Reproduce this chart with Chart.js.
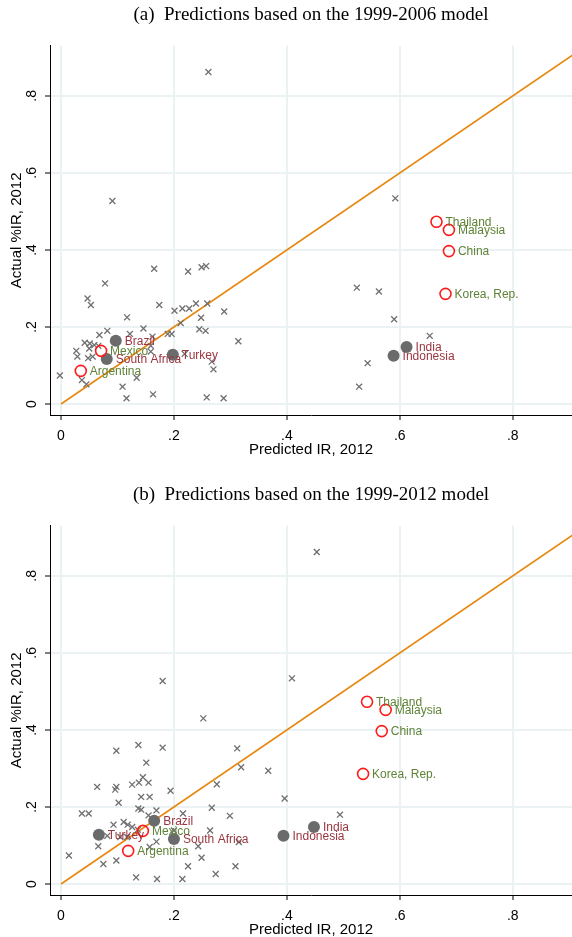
<!DOCTYPE html>
<html>
<head>
<meta charset="utf-8">
<script src="https://cdn.jsdelivr.net/npm/chart.js@4.4.1/dist/chart.umd.min.js"></script>
<style>
  html, body { margin: 0; padding: 0; background: #fff; overflow: hidden; width: 572px; height: 937px; }
  canvas { position: absolute; left: 0; }
  #panelA { top: 0; }
  #panelB { top: 480px; }
</style>
</head>
<body>
<canvas id="panelA" width="572" height="480"></canvas>
<canvas id="panelB" width="572" height="480"></canvas>
<script>
// axis ticks (Stata style labels: 0 .2 .4 ...)
const X_TICKS = [0, 0.2, 0.4, 0.6, 0.8];
const Y_TICKS = [0, 0.2, 0.4, 0.6, 0.8];

// 45-degree reference line
const DIAG_X = [0, 1];
const DIAG_Y = [0, 1];

// labelled countries: gray filled dots (dark red labels)
const FILLED_NAMES  = ['Brazil', 'South Africa', 'Turkey', 'India', 'Indonesia'];
const FILLED_ACTUAL = [0.164, 0.117, 0.128, 0.148, 0.125];
const FILLED_PRED_A = [0.097, 0.081, 0.198, 0.612, 0.589];
const FILLED_PRED_B = [0.165, 0.200, 0.067, 0.448, 0.394];

// labelled countries: red hollow circles (green labels)
const HOLLOW_NAMES  = ['Mexico', 'Argentina', 'Thailand', 'Malaysia', 'China', 'Korea, Rep.'];
const HOLLOW_ACTUAL = [0.138, 0.086, 0.473, 0.452, 0.397, 0.286];
const HOLLOW_PRED_A = [0.071, 0.035, 0.665, 0.687, 0.687, 0.681];
const HOLLOW_PRED_B = [0.145, 0.119, 0.542, 0.575, 0.568, 0.535];

// other countries, panel (a)
const OTHER_A_X = [0.261, 0.091, 0.592, -0.002, 0.165, 0.225, 0.249, 0.257, 0.078, 0.047,
  0.053, 0.174, 0.201, 0.215, 0.227, 0.239, 0.259, 0.289, 0.248, 0.245,
  0.256, 0.212, 0.189, 0.196, 0.314, 0.117, 0.146, 0.162, 0.159, 0.159,
  0.122, 0.082, 0.068, 0.042, 0.051, 0.059, 0.050, 0.066, 0.027, 0.029,
  0.048, 0.056, 0.219, 0.267, 0.270, 0.134, 0.037, 0.045, 0.109, 0.116,
  0.163, 0.258, 0.288, 0.524, 0.563, 0.590, 0.653, 0.543, 0.528];
const OTHER_A_Y = [0.862, 0.527, 0.534, 0.074, 0.351, 0.344, 0.355, 0.358, 0.313, 0.274,
  0.257, 0.257, 0.242, 0.248, 0.248, 0.261, 0.261, 0.240, 0.224, 0.194,
  0.190, 0.210, 0.182, 0.182, 0.163, 0.225, 0.196, 0.175, 0.151, 0.136,
  0.182, 0.190, 0.179, 0.159, 0.157, 0.153, 0.144, 0.151, 0.138, 0.123,
  0.119, 0.123, 0.130, 0.110, 0.090, 0.068, 0.062, 0.051, 0.045, 0.015,
  0.025, 0.017, 0.015, 0.302, 0.292, 0.220, 0.177, 0.106, 0.045];

// other countries, panel (b)
const OTHER_B_X = [0.453, 0.180, 0.409, 0.252, 0.014, 0.098, 0.137, 0.180, 0.151, 0.064,
  0.096, 0.098, 0.126, 0.138, 0.145, 0.155, 0.194, 0.142, 0.157, 0.102,
  0.037, 0.049, 0.137, 0.142, 0.155, 0.169, 0.216, 0.093, 0.111, 0.118,
  0.126, 0.136, 0.105, 0.117, 0.169, 0.157, 0.066, 0.243, 0.249, 0.225,
  0.098, 0.075, 0.133, 0.170, 0.215, 0.274, 0.309, 0.264, 0.315, 0.299,
  0.267, 0.276, 0.312, 0.319, 0.367, 0.396, 0.494, 0.082, 0.200];
const OTHER_B_Y = [0.862, 0.527, 0.534, 0.430, 0.074, 0.346, 0.361, 0.354, 0.315, 0.252,
  0.245, 0.252, 0.258, 0.263, 0.277, 0.263, 0.242, 0.226, 0.226, 0.211,
  0.183, 0.183, 0.196, 0.193, 0.178, 0.191, 0.183, 0.154, 0.161, 0.154,
  0.148, 0.141, 0.122, 0.122, 0.110, 0.096, 0.098, 0.098, 0.068, 0.046,
  0.061, 0.052, 0.017, 0.013, 0.013, 0.026, 0.046, 0.139, 0.109, 0.177,
  0.198, 0.259, 0.352, 0.303, 0.294, 0.222, 0.180, 0.125, 0.139];

const SANS = "'Liberation Sans', Arial, sans-serif";
const SERIF = "'Liberation Serif', 'Times New Roman', serif";

const pts = (xs, ys) => xs.map((x, i) => ({ x: x, y: ys[i] }));
const stataTick = v => v === 0 ? '0' : String(+v.toFixed(1)).replace(/^0\./, '.');

// writes the country names next to their markers
const pointLabels = {
  id: 'pointLabels',
  afterDatasetsDraw(chart) {
    const ctx = chart.ctx;
    ctx.save();
    ctx.font = '12px ' + SANS;
    ctx.textAlign = 'left';
    ctx.textBaseline = 'middle';
    chart.data.datasets.forEach((ds, di) => {
      if (!ds.names) return;
      ctx.fillStyle = ds.labelColor;
      chart.getDatasetMeta(di).data.forEach((el, i) => {
        ctx.fillText(ds.names[i], el.x + 9, el.y + 1);
      });
    });
    ctx.restore();
  }
};

function makePanel(id, title, otherX, otherY, filledX, hollowX) {
  return new Chart(document.getElementById(id), {
    type: 'scatter',
    data: {
      datasets: [
        {
          data: pts(hollowX, HOLLOW_ACTUAL),
          names: HOLLOW_NAMES,
          labelColor: '#5f8237',
          pointStyle: 'circle',
          pointRadius: 5.5,
          pointBorderWidth: 1.6,
          pointBorderColor: '#ff1a1a',
          pointBackgroundColor: 'rgba(0,0,0,0)',
        },
        {
          data: pts(filledX, FILLED_ACTUAL),
          names: FILLED_NAMES,
          labelColor: '#9b3540',
          pointStyle: 'circle',
          pointRadius: 6,
          pointBorderWidth: 0,
          pointBackgroundColor: '#6b6b6b',
        },
        {
          data: pts(otherX, otherY),
          pointStyle: 'crossRot',
          pointRadius: 4.2,
          pointBorderWidth: 1.3,
          pointBorderColor: '#707070',
        },
        {
          data: pts(DIAG_X, DIAG_Y),
          showLine: true,
          pointRadius: 0,
          borderColor: '#e8870e',
          borderWidth: 1.6,
        },
      ],
    },
    options: {
      responsive: false,
      animation: false,
      events: [],
      layout: { autoPadding: false, padding: { left: 0, right: 0, top: 0, bottom: 20 } },
      plugins: {
        legend: { display: false },
        tooltip: { enabled: false },
        title: {
          display: true,
          text: title,
          fullSize: false,
          color: '#000',
          font: { family: SERIF, size: 19, weight: 'normal' },
          padding: { top: 4, bottom: 19 },
        },
      },
      scales: {
        x: {
          type: 'linear',
          min: -0.0195,
          max: 0.905,
          afterBuildTicks: s => { s.ticks = X_TICKS.map(v => ({ value: v })); },
          afterFit: s => { s.height = 45; s.paddingLeft = 0; s.paddingRight = 0; },
          ticks: {
            callback: stataTick,
            color: '#000',
            font: { family: SANS, size: 14 },
            padding: 8,
            minRotation: 0,
            maxRotation: 0,
            autoSkip: false,
          },
          grid: { color: '#eaf2f3', lineWidth: 2, tickLength: 5, tickColor: '#000', tickWidth: 1 },
          border: { display: true, color: '#000', width: 1 },
          title: {
            display: true,
            text: 'Predicted IR, 2012',
            color: '#000',
            font: { family: SANS, size: 15 },
            padding: { top: 0, bottom: 1 },
          },
        },
        y: {
          type: 'linear',
          min: -0.0286,
          max: 0.93,
          afterBuildTicks: s => { s.ticks = Y_TICKS.map(v => ({ value: v })); },
          afterFit: s => { s.width = 50; s.paddingTop = 0; s.paddingBottom = 0; },
          ticks: {
            callback: stataTick,
            color: '#000',
            font: { family: SANS, size: 14 },
            padding: 7,
            minRotation: 90,
            maxRotation: 90,
            crossAlign: 'center',
            autoSkip: false,
          },
          grid: { color: '#eaf2f3', lineWidth: 2, tickLength: 5, tickColor: '#000', tickWidth: 1 },
          border: { display: true, color: '#000', width: 1 },
          title: {
            display: true,
            text: 'Actual %IR, 2012',
            color: '#000',
            font: { family: SANS, size: 15 },
            padding: { top: 8, bottom: 0 },
          },
        },
      },
    },
    plugins: [pointLabels],
  });
}

makePanel('panelA', '(a)  Predictions based on the 1999-2006 model',
  OTHER_A_X, OTHER_A_Y, FILLED_PRED_A, HOLLOW_PRED_A);
makePanel('panelB', '(b)  Predictions based on the 1999-2012 model',
  OTHER_B_X, OTHER_B_Y, FILLED_PRED_B, HOLLOW_PRED_B);
</script>
</body>
</html>
